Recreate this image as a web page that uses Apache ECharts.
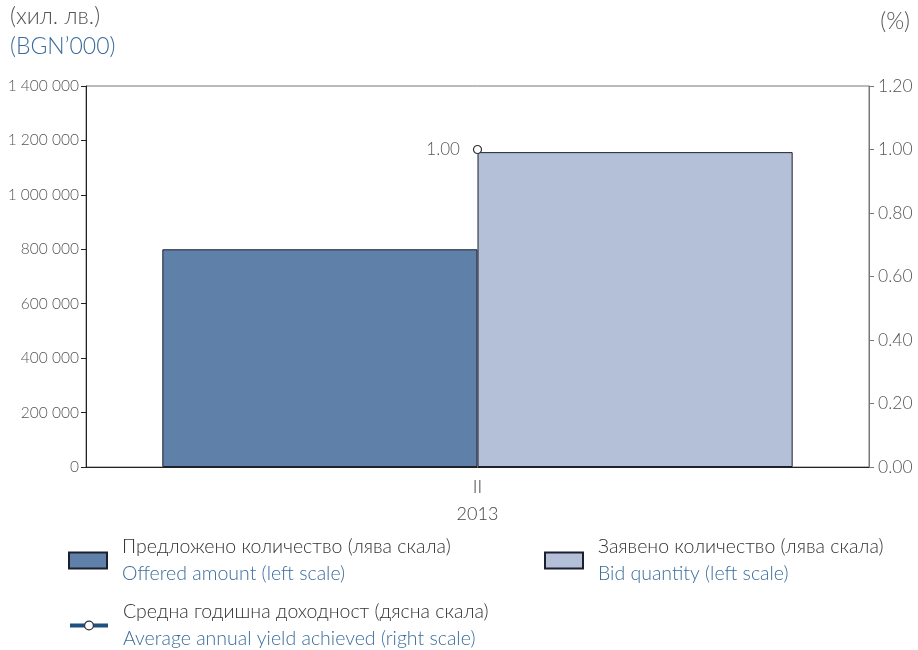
<!DOCTYPE html>
<html><head><meta charset="utf-8">
<script src="https://cdn.jsdelivr.net/npm/echarts@6/dist/echarts.min.js"></script>
<style>html,body{margin:0;padding:0;background:#fff}#c{width:918px;height:650px}</style>
</head><body><div id="c"></div>
<script>
const categories = ['II\n2013'];
const offeredAmount = [800000];
const bidQuantity = [1157000];
const avgYield = [1.00];
const leftTicks = [0, 200000, 400000, 600000, 800000, 1000000, 1200000, 1400000];
const rightTicks = [0, 0.2, 0.4, 0.6, 0.8, 1.0, 1.2];
const names = {
  offered: ['Предложено количество (лява скала)', 'Offered amount (left scale)'],
  bid: ['Заявено количество (лява скала)', 'Bid quantity (left scale)'],
  yield: ['Средна годишна доходност (дясна скала)', 'Average annual yield achieved (right scale)']
};
const FONT = 'Lato';
const GRAY = '#555';
const BLUE = '#3b6c9c';
const chart = echarts.init(document.getElementById('c'));
const rich = {
  a: {fontFamily: FONT, fontWeight: 300, fontSize: 19.5, color: '#333', lineHeight: 27},
  b: {fontFamily: FONT, fontWeight: 300, fontSize: 19.5, color: BLUE, lineHeight: 27}
};
function legendFor(name, left, top, icon, ih) {
  const l = {
    data: [{name: name, icon: icon}], left: left, top: top, orient: 'horizontal',
    itemWidth: 38, itemHeight: ih, padding: 0,
    formatter: n => {
      const k = Object.keys(names).find(k => names[k][0] === n);
      return '{a|' + names[k][0] + '}\n{b|' + names[k][1] + '}';
    },
    textStyle: {rich: rich, padding: [0, 0, 0, 10]}
  };
  if (!icon) {
    l.data = [name];
    l.lineStyle = {width: 4, color: '#1f5080'};
    l.itemStyle = {color: '#fff', borderColor: '#333', borderWidth: 1.2};
  }
  return l;
}
chart.setOption({
  animation: false,
  textStyle: {fontFamily: FONT},
  graphic: [
    {type: 'text', left: 10, top: 5, style: {text: '(хил. лв.)', fontFamily: FONT, fontWeight: 300, fontSize: 23, fill: GRAY}},
    {type: 'text', left: 10, top: 35, style: {text: '(BGN’000)', fontFamily: FONT, fontWeight: 300, fontSize: 23, fill: BLUE}},
    {type: 'text', right: 8, top: 10, style: {text: '(%)', fontFamily: FONT, fontWeight: 300, fontSize: 23, fill: GRAY}}
  ],
  grid: {left: 86, right: 49, top: 86, bottom: 183, show: true, borderColor: '#777', borderWidth: 1},
  legend: [
    legendFor(names.offered[0], 68, 537, 'rect', 16),
    legendFor(names.bid[0], 544, 537, 'rect', 16),
    legendFor(names.yield[0], 68, 602, null, 11)
  ],
  xAxis: {
    type: 'category', data: categories,
    axisLine: {lineStyle: {color: '#222', width: 1}},
    axisTick: {show: false},
    axisLabel: {color: '#444', fontSize: 18, fontFamily: FONT, fontWeight: 300, lineHeight: 27, margin: 7}
  },
  yAxis: [
    {
      type: 'value', min: 0, max: 1400000, interval: 200000,
      axisLine: {show: true, lineStyle: {color: '#222'}},
      axisTick: {show: true, length: 5, lineStyle: {color: '#222'}},
      splitLine: {show: false},
      axisLabel: {color: GRAY, fontSize: 15.5, fontFamily: FONT, fontWeight: 300, margin: 7,
        formatter: v => String(v).replace(/\B(?=(\d{3})+(?!\d))/g, ' ')}
    },
    {
      type: 'value', min: 0, max: 1.2, interval: 0.2, position: 'right',
      axisLine: {show: true, lineStyle: {color: '#777'}},
      axisTick: {show: true, length: 5, lineStyle: {color: '#777'}},
      splitLine: {show: false},
      axisLabel: {color: GRAY, fontSize: 17.5, fontFamily: FONT, fontWeight: 300, margin: 9,
        formatter: v => v.toFixed(2)}
    }
  ],
  series: [
    {name: names.offered[0], type: 'bar', data: offeredAmount, yAxisIndex: 0,
      barGap: '0%', barCategoryGap: '19.5%',
      itemStyle: {color: '#5f80a9', borderColor: '#1c1f2e', borderWidth: 1}},
    {name: names.bid[0], type: 'bar', data: bidQuantity, yAxisIndex: 0,
      barGap: '0%', barCategoryGap: '19.5%',
      itemStyle: {color: '#b3c0d7', borderColor: '#1c1f2e', borderWidth: 1}},
    {name: names.yield[0], type: 'line', data: avgYield, yAxisIndex: 1, z: 10,
      symbol: 'circle', symbolSize: 8, showSymbol: true,
      lineStyle: {color: '#1f5080', width: 4},
      itemStyle: {color: '#fff', borderColor: '#333', borderWidth: 1.2},
      label: {show: true, position: 'left', distance: 13, color: GRAY, fontSize: 17, fontFamily: FONT, fontWeight: 300,
        formatter: p => p.value.toFixed(2)}}
  ]
});
</script></body></html>
